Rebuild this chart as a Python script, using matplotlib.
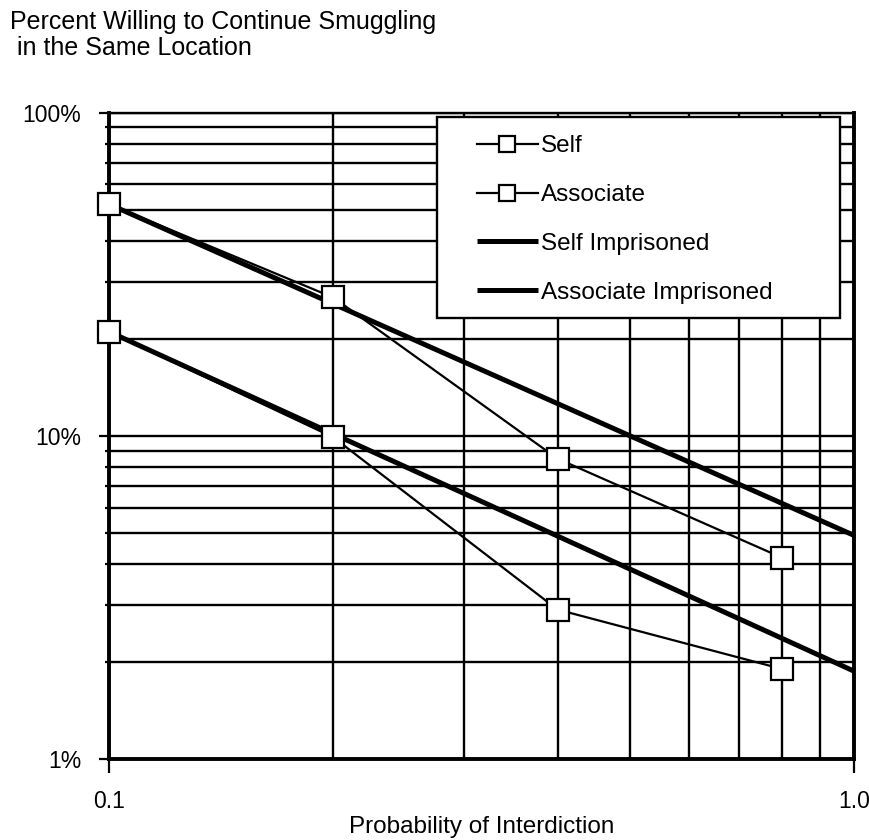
import numpy as np
from matplotlib import pyplot as plt
from matplotlib.patches import Rectangle
from matplotlib.ticker import FixedLocator, NullFormatter

# probability of interdiction for the survey points
prob = [0.1, 0.2, 0.4, 0.8]
self_pct = [52.1, 26.8, 8.5, 4.2]
associate_pct = [21.0, 9.9, 2.9, 1.9]

# imprisoned curves (straight on log-log), read at both ends of the axis
prob_ends = [0.1, 1.0]
self_imprisoned_pct = [52.1, 4.92]
associate_imprisoned_pct = [21.0, 1.87]

y_ticks = [1, 10, 100]
y_tick_labels = ["1%", "10%", "100%"]
x_ticks = [0.1, 1.0]
x_tick_labels = ["0.1", "1.0"]

plt.rcParams['font.family'] = ['Liberation Sans', 'DejaVu Sans']

W, H = 870, 840
fig = plt.figure(figsize=(W / 100, H / 100), dpi=100)
ax = fig.add_axes([109 / W, 1 - 759 / H, (854 - 109) / W, (759 - 112.7) / H])

ax.set_xscale("log")
ax.set_yscale("log")
ax.set_xlim(0.1, 1.0)
ax.set_ylim(1, 100)

# grid at every minor/major decade step
ax.xaxis.set_minor_locator(FixedLocator(np.arange(2, 10) / 10))
ax.yaxis.set_minor_locator(FixedLocator(list(range(2, 10)) + list(range(20, 100, 10))))
ax.xaxis.set_minor_formatter(NullFormatter())
ax.yaxis.set_minor_formatter(NullFormatter())
ax.grid(True, which="both", color="black", linewidth=1.7)
ax.set_axisbelow(True)

ax.set_xticks(x_ticks)
ax.set_xticklabels(x_tick_labels)
ax.set_yticks(y_ticks)
ax.set_yticklabels(y_tick_labels)
ax.tick_params(axis="both", which="major", direction="out", length=7, width=1.6,
               labelsize=16.5, color="black")
ax.tick_params(axis="x", which="major", length=10, pad=12)
ax.tick_params(axis="y", which="major", pad=13)
ax.tick_params(axis="x", which="minor", length=0)
ax.tick_params(axis="y", which="minor", direction="out", length=3, width=1.6)

for side in ["left", "bottom", "right"]:
    ax.spines[side].set_linewidth(2.8)
ax.spines["top"].set_linewidth(1.7)

mk = dict(marker="s", markersize=16, markerfacecolor="white",
          markeredgecolor="black", markeredgewidth=1.6)
ax.plot(prob, self_pct, color="black", linewidth=1.6, label="Self",
        zorder=3, clip_on=False, **mk)
ax.plot(prob, associate_pct, color="black", linewidth=1.6, label="Associate",
        zorder=3, clip_on=False, **mk)
ax.plot(prob_ends, self_imprisoned_pct, color="black", linewidth=3.6,
        label="Self Imprisoned", zorder=2, solid_capstyle="butt")
ax.plot(prob_ends, associate_imprisoned_pct, color="black", linewidth=3.6,
        label="Associate Imprisoned", zorder=2, solid_capstyle="butt")

# legend box drawn by hand so it can be sized like the original
box = Rectangle((0.440, 0.6824), 0.541, 0.311, transform=ax.transAxes,
                facecolor="white", edgecolor="black", linewidth=1.7, zorder=4)
ax.add_patch(box)
leg = ax.legend(loc="upper left", bbox_to_anchor=(0.494, 0.965), frameon=False,
                fontsize=17.5, handlelength=2.5, handletextpad=0.12, labelspacing=1.1,
                borderpad=0, borderaxespad=0, markerscale=0.75)
leg.set_zorder(5)

fig.text(10 / W, 1 - 10 / H, "Percent Willing to Continue Smuggling\n in the Same Location",
         fontsize=18, ha="left", va="top", linespacing=1.1)
fig.text(482 / W, 2 / H, "Probability of Interdiction", fontsize=17.5,
         ha="center", va="bottom")

fig.savefig("out.png", dpi=100)
